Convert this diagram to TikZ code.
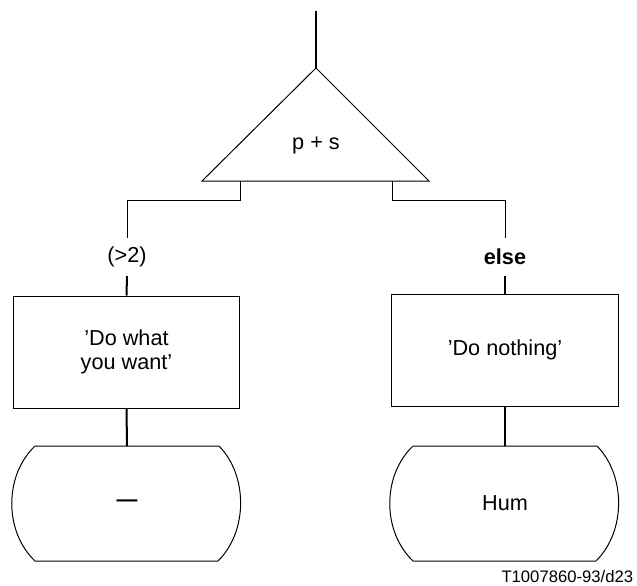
\documentclass[tikz,border=0pt]{standalone}
\usepackage{fontspec}
\setmainfont{Liberation Sans}
\newcommand{\stopshape}[1]{%
    \begin{scope}[shift={(#1)}]
        \draw[thin line] (-92,-57.5) -- (92,-57.5)
            .. controls (121,-28) and (121,28) .. (91,57.5)
            -- (-92,57.5)
            .. controls (-123,28) and (-123,-28) .. (-92,-57.5);
    \end{scope}}
\begin{document}
\begin{tikzpicture}[x=0.6pt,y=-0.6pt,
        font=\fontsize{13}{14.6}\selectfont,
        thin line/.style={line width=0.6pt},
        thick line/.style={line width=1.2pt},
        actionbox/.style={draw, line width=0.6pt, align=center, inner sep=0pt,
            minimum width=136.2pt, minimum height=67.2pt},
        endbox/.style={inner sep=0pt, outer sep=0pt,
            minimum width=136.8pt, minimum height=69pt},
        guard/.style={inner sep=0pt, outer sep=0pt, minimum height=22.8pt}]
    \useasboundingbox (0,0) rectangle (637,586);
    % decision triangle
    \coordinate (entry) at (316,11);
    \coordinate (apex) at (316,68);
    \coordinate (baseleft) at (202,181);
    \coordinate (baseright) at (429,181);
    \coordinate (forkl) at (240,181);
    \coordinate (forkr) at (392,181);
    \draw[thick line] (entry) -- (apex);
    \draw[thin line] (apex) -- (baseleft) -- (baseright) -- cycle;
    \node (cond) at (316,145) {p + s};
    % guards
    \node[guard] (gt) at (127,257) {(>2)};
    \node[guard] (else) at (505,257) {\textbf{else}};
    \draw[thin line] (forkl) -- ++(0,19.5) -| (gt.north);
    \draw[thin line] (forkr) -- ++(0,19.5) -| (else.north);
    % actions
    \node[actionbox] (dowhat) at (126.5,352) {'Do what\\you want'};
    \node[actionbox] (nothing) at (505,350) {'Do nothing'};
    \draw[thick line] (gt.south) -- (dowhat.north);
    \draw[thick line] (else.south) -- (nothing.north);
    % end states
    \node[endbox] (dash) at (127,503.5) {\fontsize{12.5}{14}\selectfont\bfseries ---};
    \node[endbox] (hum) at (505,503.5) {Hum};
    \stopshape{127,503.5}
    \stopshape{505,503.5}
    \draw[thick line] (dowhat.south) -- (dash.north);
    \draw[thick line] (nothing.south) -- (hum.north);
    \node[anchor=east, font=\fontsize{10}{12}\selectfont] (ref) at (639,577) {T1007860-93/d23};
\end{tikzpicture}
\end{document}
